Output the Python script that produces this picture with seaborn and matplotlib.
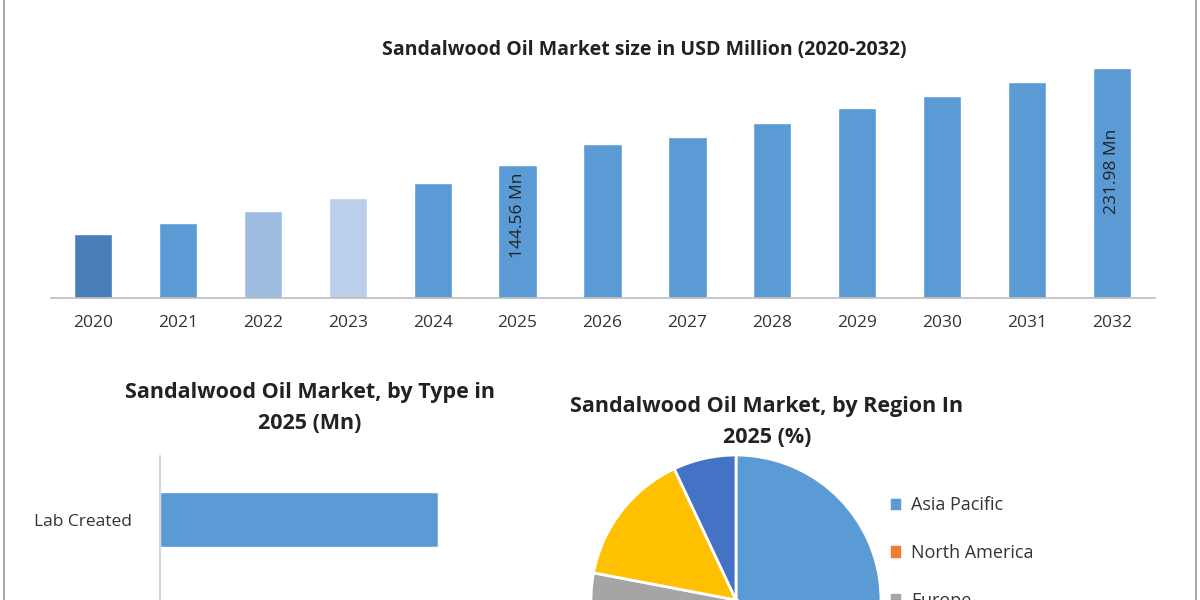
import matplotlib
matplotlib.use("Agg")
import matplotlib.pyplot as plt
import seaborn as sns
from matplotlib.patches import Rectangle, Patch

sns.set_theme(style="white")
plt.rcParams["font.family"] = ["Open Sans", "DejaVu Sans"]

# Market size by year (USD Mn)
years = ["2020", "2021", "2022", "2023", "2024", "2025", "2026",
         "2027", "2028", "2029", "2030", "2031", "2032"]
market_size = [82.4, 92.3, 103.1, 114.8, 128.3, 144.56, 163.5,
               169.8, 182.4, 195.9, 206.7, 219.3, 231.98]
bar_colors = ["#4A7EBB", "#5B9BD5", "#9DBCE0", "#B9CFEA"] + ["#5B9BD5"] * 9

# By type 2025 (Mn) - second bar is cut off in the picture
types = ["Lab Created", "Natural"]
type_values = [60.0, 84.56]

# By region 2025 (%)
regions = ["Asia Pacific", "North America", "Europe", "Latin America",
           "Middle East & Africa"]
region_share = [45, 20, 13, 15, 7]
region_colors = ["#5B9BD5", "#ED7D31", "#A5A5A5", "#FFC000", "#4472C4"]

fig = plt.figure(figsize=(12, 6), dpi=100)
fig.patches.append(Rectangle((0.003, -0.1), 0.994, 1.2, transform=fig.transFigure,
                             fill=False, edgecolor="#9A9A9A", lw=1.2))

# --- top bar chart
ax1 = fig.add_axes([50.5 / 1200, 0.503, 1104 / 1200, 238 / 600])
sns.barplot(x=years, y=market_size, palette=bar_colors, hue=years, legend=False,
            width=0.45, ax=ax1, saturation=1)
ax1.set_ylim(24.7, 239)
ax1.set_xlim(-0.5, 12.5)
for s in ["top", "right", "left"]:
    ax1.spines[s].set_visible(False)
ax1.spines["bottom"].set_color("#BFBFBF")
ax1.set_yticks([])
ax1.set_xlabel("")
ax1.set_ylabel("")
ax1.tick_params(axis="x", labelsize=12.5, colors="#333333", length=0, pad=12)
for i, frac in ((5, 0.62), (12, 0.55)):
    ax1.text(i, 24.7 + (market_size[i] - 24.7) * frac, f"{market_size[i]:.2f} Mn",
             rotation=90, ha="center", va="center", fontsize=12.5, color="#222222")
fig.text(0.537, 1 - 50 / 600, "Sandalwood Oil Market size in USD Million (2020-2032)",
         ha="center", va="center", fontsize=14, fontweight="bold", color="#222222")

# --- by type
ax2 = fig.add_axes([160 / 1200, -0.185, 463 / 1200, 255 / 600])
sns.barplot(x=type_values, y=types, color="#5B9BD5", saturation=1, width=0.43,
            orient="h", ax=ax2)
ax2.set_xlim(0, 100)
for s in ["top", "right", "bottom"]:
    ax2.spines[s].set_visible(False)
ax2.spines["left"].set_color("#D0D0D0")
ax2.set_xticks([])
ax2.set_xlabel("")
ax2.set_ylabel("")
ax2.tick_params(axis="y", labelsize=12.5, colors="#333333", length=0, pad=20)
fig.text(310 / 1200, 1 - 408 / 600, "Sandalwood Oil Market, by Type in\n2025 (Mn)",
         ha="center", va="center", fontsize=15.5, fontweight="bold",
         color="#222222", linespacing=1.6)

# --- by region pie
ax3 = fig.add_axes([591 / 1200, -145 / 600, 290 / 1200, 290 / 600])
ax3.pie(region_share, colors=region_colors, startangle=90, counterclock=False,
        radius=1.0, wedgeprops=dict(edgecolor="white", linewidth=2))
ax3.set_xlim(-1, 1)
ax3.set_ylim(-1, 1)
ax3.set_aspect("equal")
fig.text(767 / 1200, 1 - 422 / 600, "Sandalwood Oil Market, by Region In\n2025 (%)",
         ha="center", va="center", fontsize=15.5, fontweight="bold",
         color="#222222", linespacing=1.6)
handles = [Patch(color=c, label=r) for c, r in zip(region_colors, regions)]
fig.legend(handles=handles, loc="upper left", bbox_to_anchor=(875 / 1200, 1 - 480 / 600),
           frameon=False, fontsize=13, handlelength=0.5, handleheight=0.5,
           handletextpad=0.6, labelspacing=1.65, labelcolor="#333333")

fig.savefig("out.png", dpi=100)
